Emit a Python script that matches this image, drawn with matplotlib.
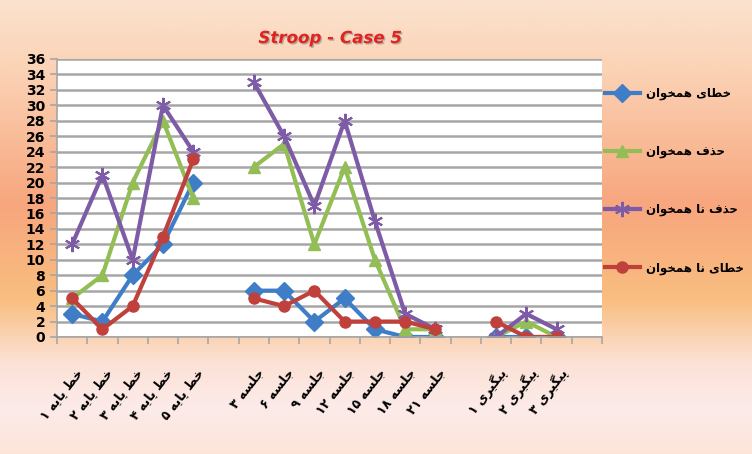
import numpy as np
import matplotlib.pyplot as plt
from matplotlib.colors import LinearSegmentedColormap
import matplotlib.patheffects as pe
import matplotlib.transforms as mtransforms

nan = np.nan

# categories (empty strings are the gaps between phases)
categories = ['خط پایه ۱', 'خط پایه ۲', 'خط پایه ۳', 'خط پایه ۴', 'خط پایه ۵', '',
              'جلسه ۳', 'جلسه ۶', 'جلسه ۹', 'جلسه ۱۲', 'جلسه ۱۵', 'جلسه ۱۸', 'جلسه ۲۱', '',
              'پیگیری ۱', 'پیگیری ۲', 'پیگیری ۳', '']

err_congruent = [3, 2, 8, 12, 20, nan, 6, 6, 2, 5, 1, 0, 0, nan, 0, 0, 0, nan]
omit_congruent = [5, 8, 20, 28, 18, nan, 22, 25, 12, 22, 10, 1, 1, nan, 0, 2, 0, nan]
omit_incongruent = [12, 21, 10, 30, 24, nan, 33, 26, 17, 28, 15, 3, 1, nan, 0, 3, 1, nan]
err_incongruent = [5, 1, 4, 13, 23, nan, 5, 4, 6, 2, 2, 2, 1, nan, 2, 0, 0, nan]

series_names = ['خطای همخوان', 'حذف همخوان', 'حذف نا همخوان', 'خطای نا همخوان']
yticks = list(range(0, 37, 2))

# --- tiny persian shaper (matplotlib has no bidi / shaping) ---
FORMS = {
    'ا': ('\uFE8D', '\uFE8E'), 'ذ': ('\uFEAB', '\uFEAC'), 'ر': ('\uFEAD', '\uFEAE'),
    'و': ('\uFEED', '\uFEEE'),
    'پ': ('\uFB56', '\uFB57', '\uFB58', '\uFB59'),
    'ج': ('\uFE9D', '\uFE9E', '\uFE9F', '\uFEA0'),
    'ح': ('\uFEA1', '\uFEA2', '\uFEA3', '\uFEA4'),
    'خ': ('\uFEA5', '\uFEA6', '\uFEA7', '\uFEA8'),
    'س': ('\uFEB1', '\uFEB2', '\uFEB3', '\uFEB4'),
    'ط': ('\uFEC1', '\uFEC2', '\uFEC3', '\uFEC4'),
    'ف': ('\uFED1', '\uFED2', '\uFED3', '\uFED4'),
    'گ': ('\uFB92', '\uFB93', '\uFB94', '\uFB95'),
    'ل': ('\uFEDD', '\uFEDE', '\uFEDF', '\uFEE0'),
    'م': ('\uFEE1', '\uFEE2', '\uFEE3', '\uFEE4'),
    'ن': ('\uFEE5', '\uFEE6', '\uFEE7', '\uFEE8'),
    'ه': ('\uFEE9', '\uFEEA', '\uFEEB', '\uFEEC'),
    'ی': ('\uFBFC', '\uFBFD', '\uFBFE', '\uFBFF'),
}


def shape(s):
    out = []
    for i, c in enumerate(s):
        if c not in FORMS:
            out.append(c)
            continue
        prev = s[i - 1] if i > 0 else ''
        nxt = s[i + 1] if i + 1 < len(s) else ''
        jp = prev in FORMS and len(FORMS[prev]) == 4
        jn = len(FORMS[c]) == 4 and nxt in FORMS
        f = FORMS[c]
        if jp and jn:
            out.append(f[3])
        elif jp:
            out.append(f[1])
        elif jn:
            out.append(f[2])
        else:
            out.append(f[0])
    # visual order: reverse, but keep digit runs as they are
    runs, cur, isd = [], '', None
    for c in out:
        d = '\u06F0' <= c <= '\u06F9'
        if cur and d != isd:
            runs.append((cur, isd))
            cur = ''
        cur += c
        isd = d
    if cur:
        runs.append((cur, isd))
    return ''.join(r if d else r[::-1] for r, d in runs[::-1])


plt.rcParams['font.family'] = ['DejaVu Sans']

fig = plt.figure(figsize=(7.52, 4.54), dpi=100)

# gradient background
bg = fig.add_axes([0, 0, 1, 1], zorder=-10)
cmap = LinearSegmentedColormap.from_list('bg', [
    (0.0, '#FBE2CE'), (0.15, '#FBD3B6'), (0.45, '#F7A67D'),
    (0.66, '#F9BE80'), (0.8, '#FCE2D6'), (0.9, '#FDEBEA'), (1.0, '#FCE5D8')])
bg.imshow(np.linspace(0, 1, 256).reshape(-1, 1), cmap=cmap, aspect='auto',
          extent=[0, 1, 0, 1])
bg.axis('off')

ax = fig.add_axes([57 / 752, 1 - 337 / 454, 545 / 752, 278 / 454])
ax.set_facecolor('white')

x = np.arange(len(categories))
styles = [
    (err_congruent, '#3F7EC6', 'D', 9, {}),
    (omit_congruent, '#93BE55', '^', 9, {}),
    (omit_incongruent, '#7D5BA6', (6, 2, 0), 11, {'markeredgewidth': 1.5}),
    (err_incongruent, '#C0413C', 'o', 8, {}),
]
handles = []
for (vals, col, mk, ms, kw), name in zip(styles, series_names):
    h, = ax.plot(x, vals, color=col, linewidth=3, marker=mk, markersize=ms,
                 markerfacecolor=col, markeredgecolor=col, label=shape(name), **kw)
    handles.append(h)

ax.set_xlim(-0.5, len(categories) - 0.5)
ax.set_ylim(0, 36)
ax.set_yticks(yticks)
ax.set_yticklabels([str(v) for v in yticks], fontsize=10, fontweight='bold')
ax.set_xticks(np.arange(-0.5, len(categories), 1))
ax.set_xticklabels([])
ax.tick_params(axis='both', direction='out', length=5, color='#A6A6A6', width=1.2)
ax.yaxis.grid(True, color='#A6A6A6', linewidth=1.8)
ax.set_axisbelow(True)
for s in ['top', 'right']:
    ax.spines[s].set_visible(False)
for s in ['left', 'bottom']:
    ax.spines[s].set_color('#A6A6A6')
    ax.spines[s].set_linewidth(1.2)

# rotated persian category labels
trans = mtransforms.blended_transform_factory(ax.transData, ax.transAxes)
for i, lab in enumerate(categories):
    if lab:
        ax.text(i + 0.08, -0.105, shape(lab), transform=trans, rotation=52,
                rotation_mode='anchor', ha='right', va='top', fontsize=9,
                fontweight='bold')

fig.legend(handles=handles, loc='upper left', bbox_to_anchor=(600 / 752, 1 - 82 / 454),
           frameon=False, labelspacing=3.8, handlelength=3.0, handletextpad=0.5,
           borderaxespad=0, prop={'size': 8.5, 'weight': 'bold'})

fig.text(330 / 752, 1 - 38 / 454, 'Stroop - Case 5', color='#E2231E', fontsize=12,
         fontweight='bold', style='italic', ha='center', va='center',
         path_effects=[pe.withSimplePatchShadow(offset=(1, -1), shadow_rgbFace='#888888', alpha=0.6)])

fig.savefig('out.png', dpi=100)
